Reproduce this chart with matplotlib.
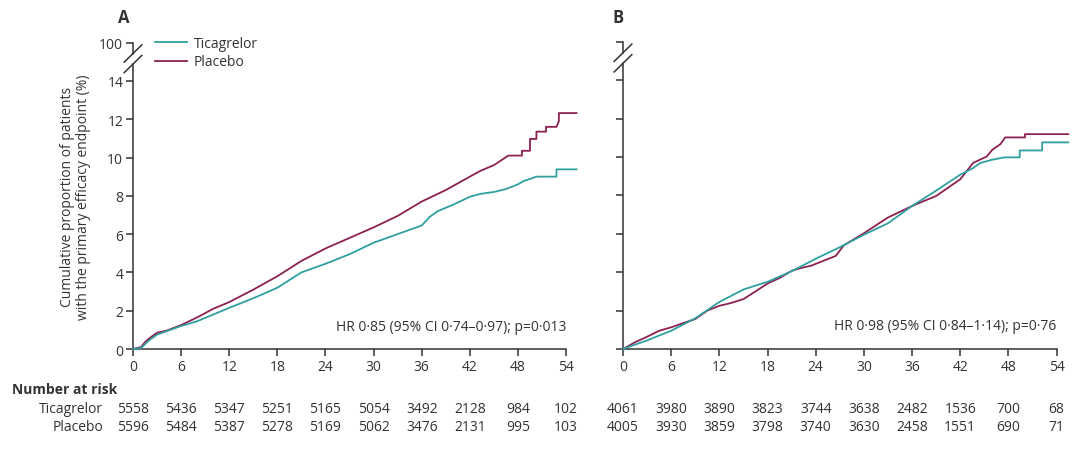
import numpy as np
import matplotlib
matplotlib.use('Agg')
import matplotlib.pyplot as plt
from matplotlib.lines import Line2D
import matplotlib.transforms as mtransforms

plt.rcParams['font.family'] = ['Open Sans', 'DejaVu Sans']

TEAL = '#2f9fa0'
RED = '#8c2150'
TXT = '#333333'

months = [0, 6, 12, 18, 24, 30, 36, 42, 48, 54]
yticks = [0, 2, 4, 6, 8, 10, 12, 14]

# panel A
a_tica_t = [0, 1, 2, 3, 4, 6, 8, 10, 12, 15, 18, 21, 24, 27, 30, 33, 36, 37, 38, 40, 42, 43.3,
            45, 46.5, 48, 48.7, 49.5, 50.3, 52.8, 52.8, 55.3]
a_tica_v = [0, 0.05, 0.45, 0.75, 0.9, 1.2, 1.45, 1.8, 2.15, 2.65, 3.2, 4.0, 4.45, 4.95, 5.55, 6.0,
            6.45, 6.9, 7.2, 7.55, 7.95, 8.1, 8.2, 8.35, 8.6, 8.77, 8.88, 9.0, 9.0, 9.38, 9.38]
a_plac_t = [0, 1, 1.5, 2, 3, 4.2, 6, 8, 10, 12, 15, 18, 21, 24, 27, 30, 33, 36, 39, 42, 43.3, 45,
            46.8, 48.5, 48.5, 49.5, 49.5, 50.3, 50.3, 51.5, 51.5, 52.8, 53.1, 53.1, 55.3]
a_plac_v = [0, 0.1, 0.36, 0.55, 0.85, 0.96, 1.25, 1.65, 2.1, 2.45, 3.1, 3.8, 4.6, 5.25, 5.8, 6.35,
            6.95, 7.7, 8.3, 9.0, 9.3, 9.6, 10.1, 10.1, 10.35, 10.35, 10.97, 10.97, 11.35, 11.35,
            11.6, 11.6, 11.9, 12.32, 12.32]

# panel B
b_tica_t = [0, 3, 6, 9, 12, 15, 18, 21, 24, 27, 30, 33, 36, 39, 42, 43.5, 44.5, 46, 47.5, 49.4,
            49.4, 52.2, 52.2, 55.45]
b_tica_v = [0, 0.45, 0.95, 1.6, 2.45, 3.1, 3.5, 4.05, 4.7, 5.3, 5.95, 6.55, 7.45, 8.25, 9.08, 9.4,
            9.69, 9.86, 9.98, 9.98, 10.34, 10.34, 10.76, 10.76]
b_plac_t = [0, 1.5, 3, 4.5, 6, 7.5, 9, 10.5, 12, 13.5, 15, 16.5, 18, 19.5, 21, 22, 23.5, 25, 26.5,
            27.5, 30, 33, 36, 39, 42, 43.6, 45.3, 46, 47, 47.6, 50.06, 50.06, 55.45]
b_plac_v = [0, 0.35, 0.64, 0.95, 1.13, 1.35, 1.56, 2.0, 2.25, 2.4, 2.6, 3.0, 3.41, 3.7, 4.07, 4.2,
            4.35, 4.6, 4.85, 5.4, 6.03, 6.85, 7.45, 7.97, 8.84, 9.69, 10.03, 10.38, 10.67, 11.02,
            11.02, 11.19, 11.19]

a_risk_tica = [5558, 5436, 5347, 5251, 5165, 5054, 3492, 2128, 984, 102]
a_risk_plac = [5596, 5484, 5387, 5278, 5169, 5062, 3476, 2131, 995, 103]
b_risk_tica = [4061, 3980, 3890, 3823, 3744, 3638, 2482, 1536, 700, 68]
b_risk_plac = [4005, 3930, 3859, 3798, 3740, 3630, 2458, 1551, 690, 71]

hr_a = 'HR 0·85 (95% CI 0·74–0·97); p=0·013'
hr_b = 'HR 0·98 (95% CI 0·84–1·14); p=0·76'

W, H = 1080, 456
fig = plt.figure(figsize=(W / 100, H / 100), dpi=100)

def px_axes(left, bottom_px, right, top_px):
    return [left / W, 1 - bottom_px / H, (right - left) / W, (bottom_px - top_px) / H]

XMAX = 56
YTOP = 16
ax_a = fig.add_axes(px_axes(133, 350, 133 + XMAX * 8.02, 350 - YTOP * 19.15))
ax_b = fig.add_axes(px_axes(623, 350, 623 + XMAX * 8.03, 350 - YTOP * 19.2))

def setup(ax, labels):
    ax.set_xlim(0, XMAX)
    ax.set_ylim(0, YTOP)
    for s in ['top', 'right', 'left']:
        ax.spines[s].set_visible(False)
    ax.spines['bottom'].set_bounds(0, 54)
    ax.spines['bottom'].set_color(TXT)
    ax.spines['bottom'].set_linewidth(1.1)
    ax.set_xticks(months)
    ax.set_yticks(yticks + [YTOP])
    ax.tick_params(colors=TXT, labelcolor=TXT, labelsize=10, length=5, width=1.1, pad=2)
    if labels:
        ax.set_yticklabels([str(v) for v in yticks] + ['100'])
    else:
        ax.set_yticklabels([])
    # broken y axis
    tr = ax.transData
    ax.plot([0, 0], [0, 14.88], color=TXT, lw=1.1, clip_on=False, transform=tr)
    ax.plot([0, 0], [15.43, YTOP], color=TXT, lw=1.1, clip_on=False, transform=tr)
    for yc in [14.88, 15.43]:
        ax.plot([-1.1, 1.1], [yc - 0.45, yc + 0.45], color=TXT, lw=1.1, clip_on=False)

setup(ax_a, True)
setup(ax_b, False)

for ax, tt, tv, pt, pv in [(ax_a, a_tica_t, a_tica_v, a_plac_t, a_plac_v),
                           (ax_b, b_tica_t, b_tica_v, b_plac_t, b_plac_v)]:
    ax.plot(pt, pv, color=RED, lw=1.3, clip_on=False, zorder=3)
    ax.plot(tt, tv, color=TEAL, lw=1.3, clip_on=False, zorder=3)

ax_a.set_ylabel('Cumulative proportion of patients\nwith the primary efficacy endpoint (%)',
                fontsize=10, color=TXT, labelpad=6, linespacing=1.1)

ax_a.text(54, 1.2, hr_a, ha='right', va='center', fontsize=10, color=TXT)
ax_b.text(54, 1.2, hr_b, ha='right', va='center', fontsize=10, color=TXT)

fig.text(118 / W, 1 - 18 / H, 'A', fontsize=12, fontweight='bold', color=TXT, va='center')
fig.text(612 / W, 1 - 18 / H, 'B', fontsize=12, fontweight='bold', color=TXT, va='center')

handles = [Line2D([], [], color=TEAL, lw=1.3), Line2D([], [], color=RED, lw=1.3)]
fig.legend(handles, ['Ticagrelor', 'Placebo'], loc='upper left', frameon=False,
           bbox_to_anchor=(148 / W, 1 - 30 / H), fontsize=10, handlelength=2.3,
           handletextpad=0.5, labelspacing=0.25, labelcolor=TXT, borderpad=0)

# number at risk
fig.text(12 / W, 1 - 390 / H, 'Number at risk', fontsize=10, fontweight='bold', color=TXT,
         va='center')
fig.text(103 / W, 1 - 410 / H, 'Ticagrelor', fontsize=10, color=TXT, va='center', ha='right')
fig.text(103 / W, 1 - 428 / H, 'Placebo', fontsize=10, color=TXT, va='center', ha='right')
for ax, rt, rp in [(ax_a, a_risk_tica, a_risk_plac), (ax_b, b_risk_tica, b_risk_plac)]:
    trans = mtransforms.blended_transform_factory(ax.transData, fig.transFigure)
    for m, n1, n2 in zip(months, rt, rp):
        ax.text(m, 1 - 410 / H, str(n1), transform=trans, ha='center', va='center',
                fontsize=10, color=TXT, clip_on=False)
        ax.text(m, 1 - 428 / H, str(n2), transform=trans, ha='center', va='center',
                fontsize=10, color=TXT, clip_on=False)

fig.savefig('out.png', dpi=100)
